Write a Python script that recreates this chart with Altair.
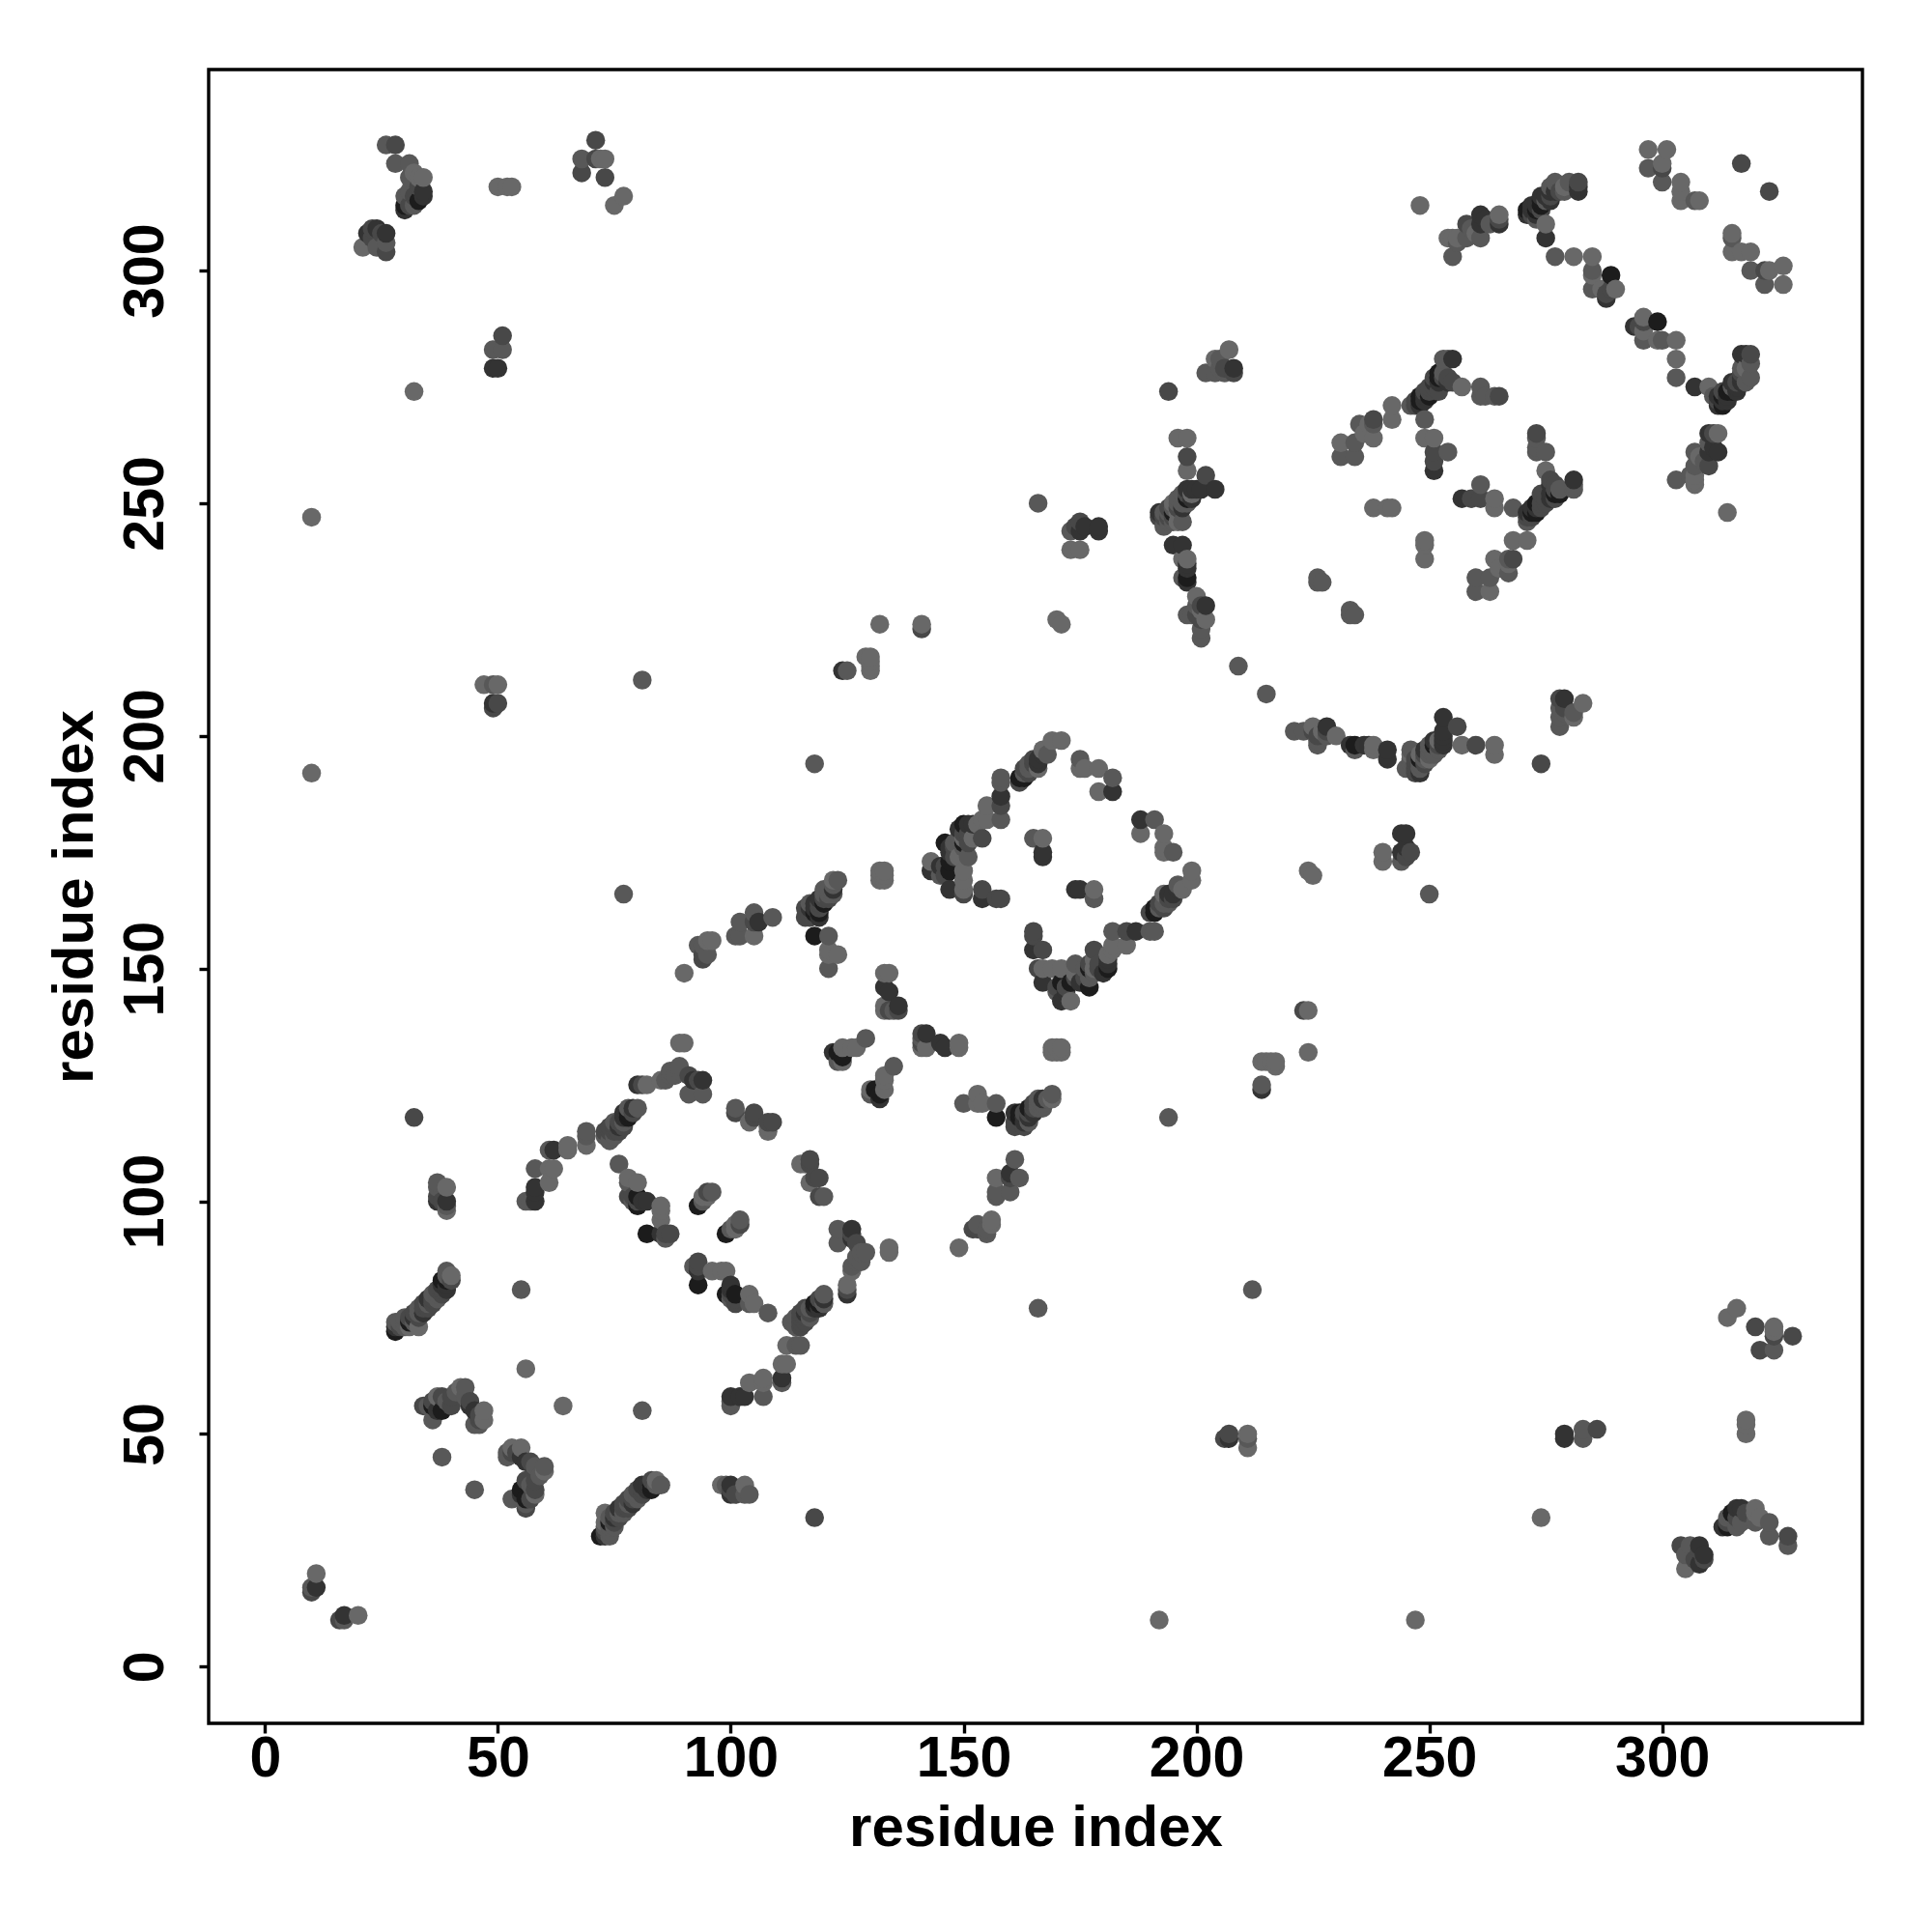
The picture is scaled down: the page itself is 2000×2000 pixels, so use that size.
import altair as alt
import pandas as pd

# residue contacts (i < j), grouped by dot shade; each is drawn at (i, j) and (j, i)
light = [(11,20),(20,11),(31,73),(33,73),(40,84),(42,60),(47,55),(47,53),(56,64),(37,58),(39,103),(39,98),(61,104),(61,107),(62,107),(65,111),(65,112),(69,112),
 (82,125),(85,126),(78,105),(80,104),(85,99),(85,98),(85,96),(94,101),(101,95),(104,117),(108,115),(108,116),(90,149),(95,156),(96,156),(105,157),(121,153),(121,154),(123,153),
 (132,170),(133,170),(132,169),(133,169),(132,171),(133,171),(124,130),(124,133),(127,133),(126,133),(133,141),(133,149),(134,149),(133,142),(89,134),(90,134),(143,173),(150,171),(150,169),(155,185),(154,182),(153,181),
 (169,199),(171,199),(166,193),(167,178),(175,193),(176,193),(179,188),(179,193),(167,150),(169,150),(171,150),(173,143),(178,167),(178,150),(182,155),(185,155),
 (173,240),(175,240),(170,225),(171,224),(132,224),(141,224),(129,217),(130,217),(130,215),(130,214),(130,216),
 (196,264),(198,264),(198,257),(195,250),(196,248),(198,238),(197,238),(200,230),(202,225),(201,227),(204,281),(207,283),(230,200),(196,246),(199,252),
 (231,263),(236,265),(237,267),(238,264),(242,268),(242,271),(238,249),(241,249),(242,249),(257,275),(249,264),(251,264),(275,257),
 (255,307),(260,308),(265,312),(254,307),(256,307),(275,310),(279,318),(281,303),(285,303),(285,299),(290,296),(287,296),
 (297,326),(301,326),(300,323),(304,319),(304,317),(304,315),(308,315),(248,314),(167,197),(122,169),(152,178),(149,174),
 (10,247),(10,192),(32,274),(47,211),(50,211),(50,318),(52,318),(53,318),(72,324),(73,324),(77,316),(75,314),(21,305),(34,320),(33,320),(32,321)]

mid = [(10,17),(28,74),(29,74),(30,73),(30,75),(32,74),(33,77),(35,78),(36,80),(37,79),(39,84),(39,85),(35,56),(36,53),(39,57),(41,59),(43,60),(43,58),(45,52),(46,52),(38,45),(55,81),
 (37,103),(37,104),(39,99),(56,100),(57,100),(58,107),(61,111),(69,114),(69,115),(73,114),(74,113),(75,114),(78,120),(80,120),(86,126),(87,127),(87,128),(88,127),(89,129),(89,128),(94,123),(91,123),
 (76,108),(78,104),(79,100),(86,92),(94,100),(96,102),(101,120),(93,155),(95,153),(94,155),(102,160),(101,157),(102,157),(105,162),(109,161),(120,166),(120,167),(121,167),(122,168),(123,169),
 (121,157),(121,150),(123,130),(129,135),(135,141),(164,193),(163,192),(158,191),(158,190),(158,182),(151,174),(148,177),(145,170),(165,178),(175,195),(182,191),(178,165),(174,151),(182,158),
 (173,244),(125,214),(77,166),(81,212),(166,250),(118,194),(49,211),(193,245),(193,248),(194,248),(195,246),(196,250),(196,251),(197,246),(197,252),(197,234),(199,226),(198,226),(200,228),(201,221),(201,223),
 (202,278),(204,278),(205,279),(205,281),(206,278),(221,201),(225,202),(226,198),(249,195),(226,234),(227,233),(226,233),(231,260),(234,260),(234,263),(235,267),(238,267),(246,271),(253,281),(254,281),(261,275),(261,273),(262,273),(249,268),(254,261),(273,264),(273,261),
 (255,303),(256,306),(258,307),(261,307),(263,310),(259,309),(273,311),(277,319),(280,319),(277,303),(285,300),(285,296),(297,322),(300,319),(307,315),
 (209,215),(194,246),(197,250),(198,250),(168,196),(164,194),(121,166),(122,166),(117,164),(150,176),(149,178),(30,74),(33,76),(37,80),(75,117),(77,117),(253,278),(275,315),(276,318),(279,317),
 (49,283),(51,283),(68,324),(26,327),(28,323),(31,323),(31,320),(32,314),(31,317),(30,316),(24,305),(26,306)]

dark = [(10,16),(17,10),(29,73),(31,75),(33,75),(32,76),(34,78),(35,77),(36,79),(37,81),(38,80),(40,83),(34,56),(36,57),(38,58),(40,56),(40,58),(44,57),(46,53),(46,54),(37,101),(38,100),
 (73,115),(74,116),(75,116),(76,115),(76,117),(77,116),(79,119),(81,125),(91,127),(93,126),(78,101),(79,101),(80,100),(86,93),(87,93),(95,102),(101,119),(105,119),(105,118),(109,117),(108,117),
 (94,153),(94,152),(105,160),(116,163),(116,161),(117,161),(119,164),(121,165),(134,141),(136,141),(165,195),(162,190),(164,192),(158,185),(154,178),(151,177),(150,166),(148,174),(146,170),(154,167),(158,165),(157,165),(165,158),(167,154),(177,148),(178,154),(185,158),(190,158),(191,158),
 (174,245),(175,246),(141,223),(32,118),(49,206),(50,207),(192,247),(193,247),(194,249),(202,256),(200,226),(201,225),(198,260),(194,274),(206,279),(208,278),(201,228),(238,268),(247,272),(250,274),(249,274),(251,275),(251,277),(253,277),(254,277),(255,276),(251,261),(251,259),(273,265),(275,261),
 (258,310),(265,311),(278,317),(282,319),(288,295),(289,296),(300,322),(317,323),(51,286),(71,328),(71,324),(68,321),(73,320),(28,327),(32,316),(33,318),(31,314),(23,309),(26,304),(23,307),(25,308),
 (194,247),(195,247),(196,249),(198,252),(165,194),(120,165),(119,163),(146,172),(150,179),(34,77),(36,78),(38,81),(74,115),(75,115),(247,271),(250,275),(252,274),(272,312),(274,313),(276,316),
 (148,176),(151,179),(163,193)]

charcoal = [(11,17),(28,73),(34,76),(38,82),(39,82),(36,57),(37,55),(44,56),(45,55),(37,100),(39,100),(58,100),(58,103),(58,102),(62,111),(77,118),(79,120),(80,125),(92,126),(94,126),
 (81,100),(82,100),(85,93),(106,160),(117,163),(119,161),(118,164),(119,165),(122,167),(122,132),(133,146),(134,145),(136,142),(124,214),(167,196),(166,195),(158,187),(151,181),(143,171),(147,175),(145,172),(154,165),(167,175),(167,174),(165,154),(167,147),(181,152),(187,158),(182,188),
 (175,244),(176,245),(179,245),(179,244),(49,207),(198,253),(199,253),(200,253),(201,253),(204,253),(192,248),(195,241),(197,241),(198,236),(198,237),(202,228),(208,279),(233,198),(248,271),(249,272),(252,276),(254,276),(255,281),(265,273),(251,257),
 (261,312),(261,310),(262,311),(265,310),(271,312),(272,313),(272,314),(273,312),(274,316),(275,307),(276,315),(276,317),(282,317),(282,318),(288,294),(49,279),(50,279),(34,317),(34,316),(30,313),(24,309),(26,308),(22,308),
 (199,251),(197,249),(166,194),(118,163),(149,180),(147,176),(32,75),(35,79),(39,81),(76,116),(77,119),(249,273),(251,276),(273,314),(275,316),(277,317)]

black = [(28,72),(38,83),(39,83),(36,56),(38,55),(78,118),(80,99),(80,101),(82,93),(93,99),(119,162),(118,162),(118,157),(123,132),(124,131),(162,191),(163,191),(150,181),(146,177),(147,173),(147,171),
 (171,147),(173,147),(171,143),(195,249),(195,248),(198,251),(198,234),(234,198),(248,273),(248,272),(250,273),(252,277),(252,278),(271,313),(273,313),(274,314),(274,315),(289,299),(30,314),(33,315),(78,119),(31,74),(120,164),(150,177)]

shades = {"#686868": light, "#585858": mid, "#484848": dark, "#333333": charcoal, "#1c1c1c": black}
x_ticks = [0, 50, 100, 150, 200, 250, 300]

rows = []
for colour, pairs in shades.items():
    for i, j in pairs:
        a, b = min(i, j), max(i, j)
        rows.append({"x": a, "y": b, "g": colour})
        rows.append({"x": b, "y": a, "g": colour})
df = (pd.DataFrame(rows).drop_duplicates(subset=["x", "y"])
      .sort_values(["x", "y"]).reset_index(drop=True))

font = "Liberation Sans"
def axis(**kw):
    return alt.Axis(values=x_ticks, grid=False, domain=False, title="residue index",
                    tickColor="black", tickWidth=3.4, tickSize=10,
                    labelFont=font, labelFontWeight="bold", labelFontSize=59, labelColor="black",
                    titleFont=font, titleFontWeight="bold", titleFontSize=60, titleColor="black",
                    labelOverlap=False, **kw)

chart = (
    alt.Chart(df)
    .mark_point(filled=True, opacity=1, size=380, shape="circle")
    .encode(
        x=alt.X("x:Q", scale=alt.Scale(domain=[-12.1, 343.0], nice=False, zero=False),
                axis=axis(labelPadding=-3, titlePadding=13)),
        y=alt.Y("y:Q", scale=alt.Scale(domain=[-12.2, 343.2], nice=False, zero=False),
                axis=axis(labelAngle=270, labelAlign="center", labelBaseline="bottom",
                          labelPadding=26, titlePadding=13)),
        color=alt.Color("g:N", scale=None),
    )
    .properties(width=1712, height=1712, autosize="none",
                padding={"left": 208, "top": 64, "right": 60, "bottom": 190},
                background="white")
    .configure_view(stroke="black", strokeWidth=3.4)
)
chart.save("out.html", embed_options={"renderer": "svg", "actions": False})
